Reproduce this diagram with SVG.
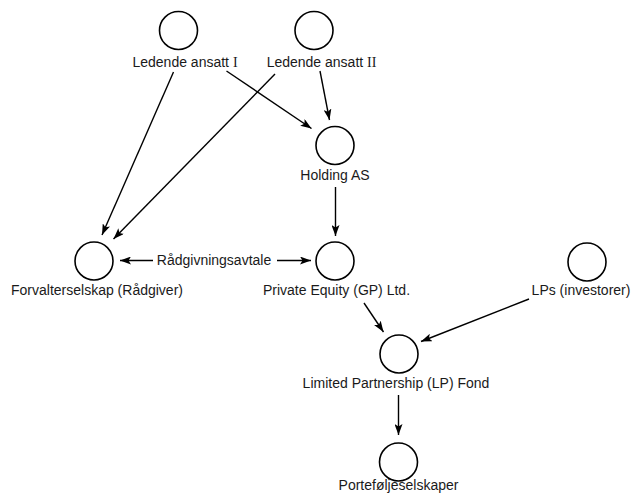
<svg xmlns="http://www.w3.org/2000/svg" width="635" height="496" viewBox="0 0 635 496">
<style>
.n{fill:none;stroke:#000;stroke-width:1.6}
.t{font-family:"Liberation Sans",Arial,sans-serif;font-size:14px;fill:#1a1a1a;text-anchor:middle}
.r{font-family:"Liberation Serif","Times New Roman",serif}
.c{stroke:#000;stroke-width:1.4;fill:none;marker-end:url(#ah)}
</style>
<defs>
<marker id="ah" markerUnits="userSpaceOnUse" markerWidth="12" markerHeight="8" refX="11" refY="4" orient="auto">
<path d="M0,0 L11,4 L0,8 L2.5,4 z" fill="#000"/>
</marker>
</defs>
<rect width="635" height="496" fill="#fff"/>
<g id="connectors">
<line class="c" x1="173.5" y1="72" x2="102" y2="235"/>
<line class="c" x1="275" y1="74" x2="113.5" y2="239"/>
<line class="c" x1="226.5" y1="71" x2="311.5" y2="128.5"/>
<line class="c" x1="320" y1="71" x2="329.5" y2="120"/>
<line class="c" x1="335.5" y1="187" x2="335.5" y2="236"/>
<line class="c" x1="153" y1="260.5" x2="120" y2="260.5"/>
<line class="c" x1="277" y1="260.5" x2="311" y2="260.5"/>
<line class="c" x1="364" y1="303" x2="383.5" y2="332"/>
<line class="c" x1="529" y1="299" x2="421" y2="341.5"/>
<line class="c" x1="398.5" y1="395" x2="398.5" y2="435"/>
</g>
<g id="ledende1"><circle class="n" cx="178.5" cy="30.5" r="19"/><text class="t" x="185" y="67">Ledende ansatt <tspan class="r">I</tspan></text></g>
<g id="ledende2"><circle class="n" cx="314" cy="30.5" r="19"/><text class="t" x="321.5" y="67">Ledende ansatt <tspan class="r">II</tspan></text></g>
<g id="holding"><circle class="n" cx="335" cy="145.5" r="19"/><text class="t" x="335" y="180">Holding AS</text></g>
<g id="forvalter"><circle class="n" cx="94" cy="261" r="19"/><text class="t" x="97" y="295">Forvalterselskap (Rådgiver)</text></g>
<g id="avtale"><text class="t" x="214" y="265">Rådgivningsavtale</text></g>
<g id="pe"><circle class="n" cx="335" cy="261" r="19"/><text class="t" x="336.5" y="295">Private Equity (GP) Ltd.</text></g>
<g id="lps"><circle class="n" cx="587" cy="262" r="19"/><text class="t" x="581" y="295">LPs (investorer)</text></g>
<g id="fond"><circle class="n" cx="399" cy="354" r="19"/><text class="t" x="396" y="388">Limited Partnership (LP) Fond</text></g>
<g id="portefolje"><circle class="n" cx="398.5" cy="462" r="19"/><text class="t" x="398.5" y="490">Porteføljeselskaper</text></g>
</svg>
